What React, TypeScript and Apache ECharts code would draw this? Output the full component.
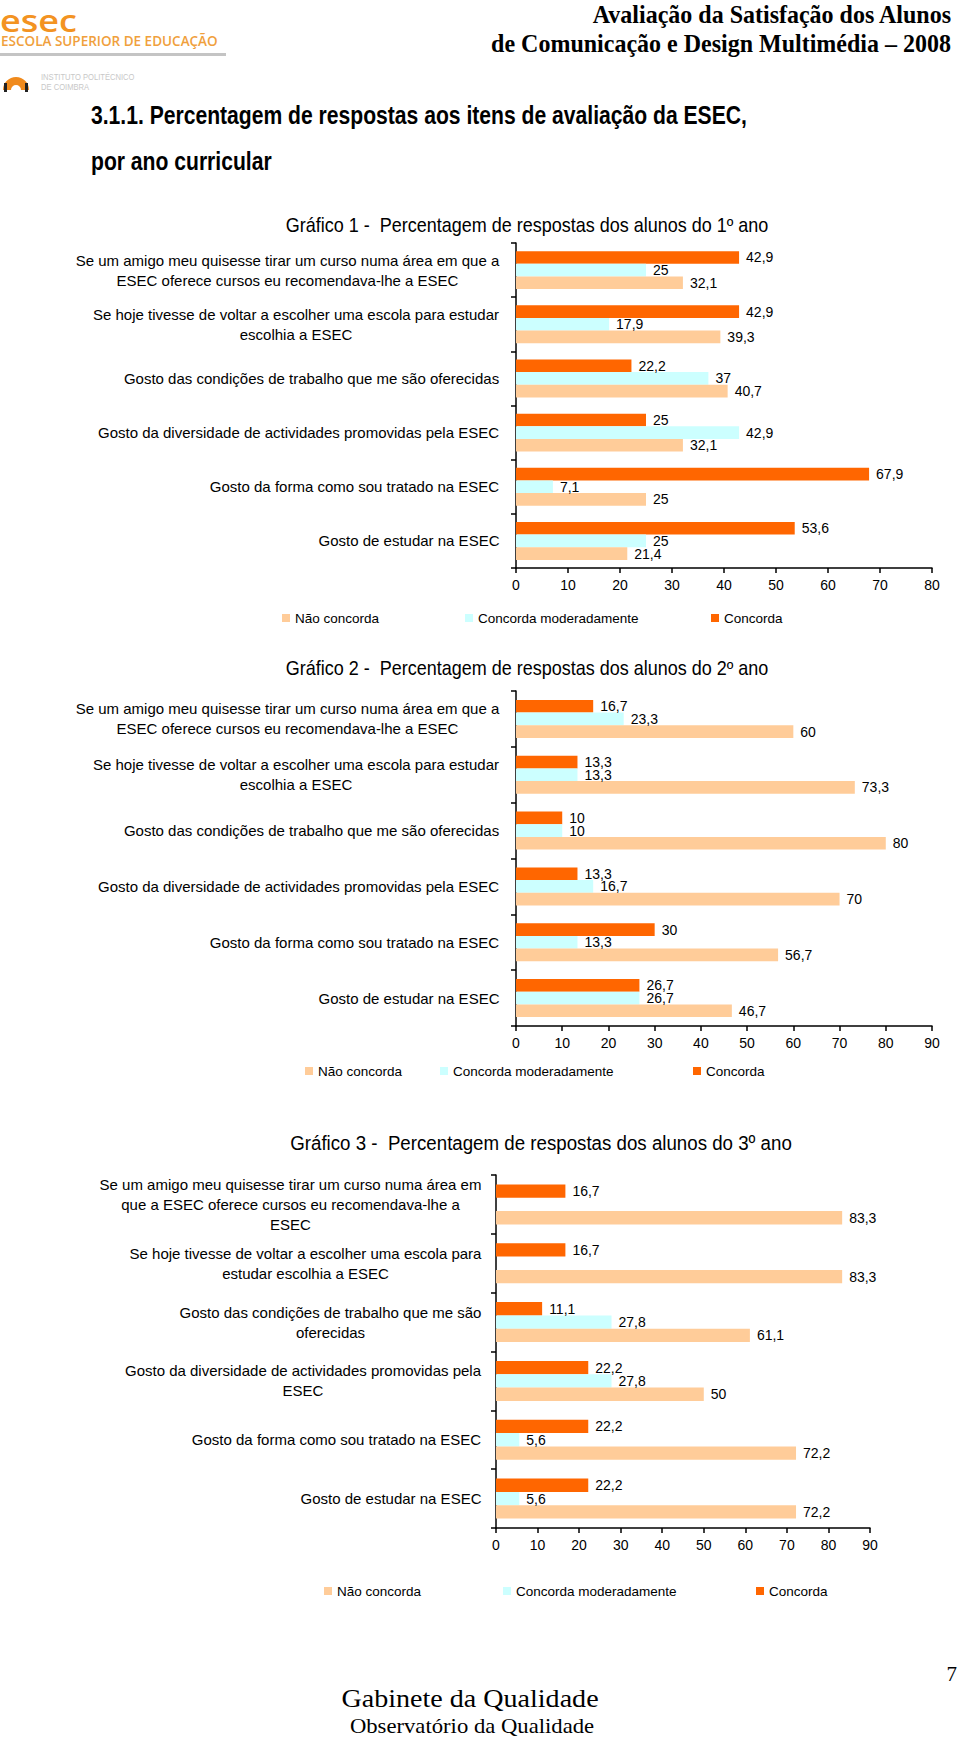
import React, { useEffect, useRef } from "react";
import * as echarts from "echarts";

// ---------- DATA ----------
const seriesNames = ["Concorda", "Concorda moderadamente", "Não concorda"];
const seriesColors = ["#FF6600", "#CCFFFF", "#FFCC99"];

// Category labels (line breaks as in the reference)
const labelsAno12: string[][] = [
  ["Se um amigo meu quisesse tirar um curso numa área em que a", "ESEC oferece cursos eu recomendava-lhe a ESEC"],
  ["Se hoje tivesse de voltar a escolher uma escola para estudar", "escolhia a ESEC"],
  ["Gosto das condições de trabalho que me são oferecidas"],
  ["Gosto da diversidade de actividades promovidas pela ESEC"],
  ["Gosto da forma como sou tratado na ESEC"],
  ["Gosto de estudar na ESEC"],
];
const labelsAno3: string[][] = [
  ["Se um amigo meu quisesse tirar um curso numa área em", "que a ESEC oferece cursos eu recomendava-lhe a", "ESEC"],
  ["Se hoje tivesse de voltar a escolher uma escola para", "estudar escolhia a ESEC"],
  ["Gosto das condições de trabalho que me são", "oferecidas"],
  ["Gosto da diversidade de actividades promovidas pela", "ESEC"],
  ["Gosto da forma como sou tratado na ESEC"],
  ["Gosto de estudar na ESEC"],
];

// 1º ano
const ano1Concorda = [42.9, 42.9, 22.2, 25, 67.9, 53.6];
const ano1Moderada = [25, 17.9, 37, 42.9, 7.1, 25];
const ano1NaoConcorda = [32.1, 39.3, 40.7, 32.1, 25, 21.4];
// 2º ano
const ano2Concorda = [16.7, 13.3, 10, 13.3, 30, 26.7];
const ano2Moderada = [23.3, 13.3, 10, 16.7, 13.3, 26.7];
const ano2NaoConcorda = [60, 73.3, 80, 70, 56.7, 46.7];
// 3º ano
const ano3Concorda = [16.7, 16.7, 11.1, 22.2, 22.2, 22.2];
const ano3Moderada = [null, null, 27.8, 27.8, 5.6, 5.6];
const ano3NaoConcorda = [83.3, 83.3, 61.1, 50, 72.2, 72.2];

const axisMax = [80, 90, 90];
const chartTitles = [
  "Gráfico 1 -  Percentagem de respostas dos alunos do 1º ano",
  "Gráfico 2 -  Percentagem de respostas dos alunos do 2º ano",
  "Gráfico 3 -  Percentagem de respostas dos alunos do 3º ano",
];

// ---------- LAYOUT ----------
const FONT = '"Liberation Sans", Arial, sans-serif';
const SERIF = '"Liberation Serif", "Times New Roman", serif';

const layout = [
  { left: 516, top: 243, width: 416, height: 325, margin: 16, gap: "30%", legendX: [282, 465, 711], legendY: 611, titleX: 527, titleY: 225, titleScale: 0.9 },
  { left: 516, top: 691, width: 416, height: 335, margin: 16, gap: "32%", legendX: [305, 440, 693], legendY: 1064, titleX: 527, titleY: 668, titleScale: 0.9 },
  { left: 496, top: 1175, width: 374, height: 353, margin: 14, gap: "32%", legendX: [324, 503, 756], legendY: 1584, titleX: 541, titleY: 1143, titleScale: 0.935 },
];

const fmt = (v: number) => String(v).replace(".", ",");

function measure(text: string, font: string): number {
  const c = document.createElement("canvas").getContext("2d");
  if (!c) return text.length * 7.5;
  c.font = font;
  return c.measureText(text).width;
}

export default function App() {
  const ref = useRef<HTMLDivElement>(null);

  useEffect(() => {
    if (!ref.current) return;
    const chart = echarts.init(ref.current, undefined, { renderer: "svg" });

    const datasets = [
      [ano1Concorda, ano1Moderada, ano1NaoConcorda],
      [ano2Concorda, ano2Moderada, ano2NaoConcorda],
      [ano3Concorda, ano3Moderada, ano3NaoConcorda],
    ];
    const labelSets = [labelsAno12, labelsAno12, labelsAno3];

    const grid = layout.map((l) => ({ left: l.left, top: l.top, width: l.width, height: l.height }));

    const axisLineStyle = { color: "#000", width: 1.5 };

    const xAxis = layout.map((l, i) => ({
      type: "value",
      gridIndex: i,
      min: 0,
      max: axisMax[i],
      interval: 10,
      axisLine: { show: true, lineStyle: axisLineStyle },
      axisTick: { show: true, length: 5, lineStyle: axisLineStyle },
      splitLine: { show: false },
      axisLabel: { fontSize: 14, color: "#000", fontFamily: FONT, margin: 10 },
    }));

    const yAxis = layout.map((l, i) => {
      const labels = labelSets[i];
      const rich: Record<string, any> = {};
      labels.forEach((lines, k) => {
        const w = Math.max(...lines.map((t) => measure(t, `15px ${FONT}`)));
        rich["l" + k] = {
          width: Math.ceil(w) + 1,
          align: "center",
          fontSize: 15,
          lineHeight: 20,
          fontFamily: FONT,
          color: "#000",
        };
      });
      return {
        type: "category",
        gridIndex: i,
        inverse: true,
        data: labels.map((lines) => lines.join("\n")),
        axisLine: { show: true, lineStyle: axisLineStyle },
        axisTick: { show: true, length: 5, lineStyle: axisLineStyle },
        splitLine: { show: false },
        axisLabel: {
          margin: l.margin,
          interval: 0,
          fontSize: 15,
          fontFamily: FONT,
          color: "#000",
          formatter: (value: string, idx: number) =>
            value
              .split("\n")
              .map((line) => `{l${idx}|${line}}`)
              .join("\n"),
          rich,
        },
      };
    });

    const series: any[] = [];
    datasets.forEach((ds, i) => {
      ds.forEach((values, s) => {
        series.push({
          type: "bar",
          name: seriesNames[s],
          xAxisIndex: i,
          yAxisIndex: i,
          data: values,
          barGap: "0%",
          barCategoryGap: layout[i].gap,
          itemStyle: { color: seriesColors[s] },
          label: {
            show: true,
            position: "right",
            distance: 7,
            fontSize: 14,
            fontFamily: FONT,
            color: "#000",
            formatter: (p: any) => (p.value == null ? "" : fmt(p.value)),
          },
        });
      });
    });

    const legendOrder = ["Não concorda", "Concorda moderadamente", "Concorda"];
    const legend: any[] = [];
    layout.forEach((l) => {
      legendOrder.forEach((name, k) => {
        legend.push({
          data: [name],
          left: l.legendX[k],
          top: l.legendY,
          padding: 0,
          icon: "rect",
          itemWidth: 8,
          itemHeight: 8,
          selectedMode: false,
          textStyle: { fontSize: 13.5, fontFamily: FONT, color: "#000" },
        });
      });
    });

    const txt = (
      text: string,
      x: number,
      y: number,
      font: string,
      fill = "#000",
      align: string = "left",
      scaleX = 1,
      scaleY = 1,
      vAlign = "middle"
    ) => ({
      type: "text",
      x,
      y,
      scaleX,
      scaleY,
      silent: true,
      style: {
        text,
        font,
        fill,
        align,
        verticalAlign: vAlign,
        textAlign: align,
        textVerticalAlign: vAlign,
      },
    });

    const graphic: any[] = [
      // header logo
      txt("esec", 0, 21, `600 30px "Open Sans", ${FONT}`, "#F39322", "left", 1.2, 1.0, "middle"),
      txt("ESCOLA SUPERIOR DE EDUCAÇÃO", 1, 41, `600 13.5px "Open Sans", ${FONT}`, "#F0A03C"),
      { type: "rect", shape: { x: 0, y: 53, width: 226, height: 3 }, style: { fill: "#C4C4C4" } },
      {
        type: "sector",
        shape: { cx: 16, cy: 90, r: 13, r0: 5, startAngle: Math.PI, endAngle: 2 * Math.PI },
        style: { fill: "#F08A1C" },
      },
      { type: "rect", shape: { x: 4, y: 83, width: 3, height: 9 }, style: { fill: "#222" } },
      { type: "rect", shape: { x: 25, y: 83, width: 3, height: 9 }, style: { fill: "#222" } },
      txt("INSTITUTO POLITÉCNICO", 41, 77, `9.5px ${FONT}`, "#C8C8C8", "left", 0.8),
      txt("DE COIMBRA", 41, 87, `9.5px ${FONT}`, "#C8C8C8", "left", 0.8),
      // header right
      txt("Avaliação da Satisfação dos Alunos", 951, 14, `bold 25px ${SERIF}`, "#000", "right", 0.96),
      txt("de Comunicação e Design Multimédia – 2008", 951, 43, `bold 25px ${SERIF}`, "#000", "right", 0.96),
      // section heading
      txt("3.1.1. Percentagem de respostas aos itens de avaliação da ESEC,", 91, 115, `bold 25px ${FONT}`, "#000", "left", 0.845),
      txt("por ano curricular", 91, 161, `bold 25px ${FONT}`, "#000", "left", 0.845),
      // chart titles
      ...layout.map((l, i) => txt(chartTitles[i], l.titleX, l.titleY, `20px ${FONT}`, "#000", "center", l.titleScale)),
      // footer
      txt("7", 957, 1674, `21px ${SERIF}`, "#000", "right"),
      txt("Gabinete da Qualidade", 470, 1698, `26px ${SERIF}`, "#000", "center", 1.08),
      txt("Observatório da Qualidade", 472, 1726, `21px ${SERIF}`, "#000", "center", 1.08),
    ];

    chart.setOption({
      animation: false,
      backgroundColor: "#fff",
      textStyle: { fontFamily: FONT },
      grid,
      xAxis,
      yAxis,
      series,
      legend,
      graphic,
    });

    return () => chart.dispose();
  }, []);

  return (
    <div
      ref={ref}
      style={{ position: "absolute", left: 0, top: 0, width: 960, height: 1738, background: "#fff" }}
    />
  );
}
